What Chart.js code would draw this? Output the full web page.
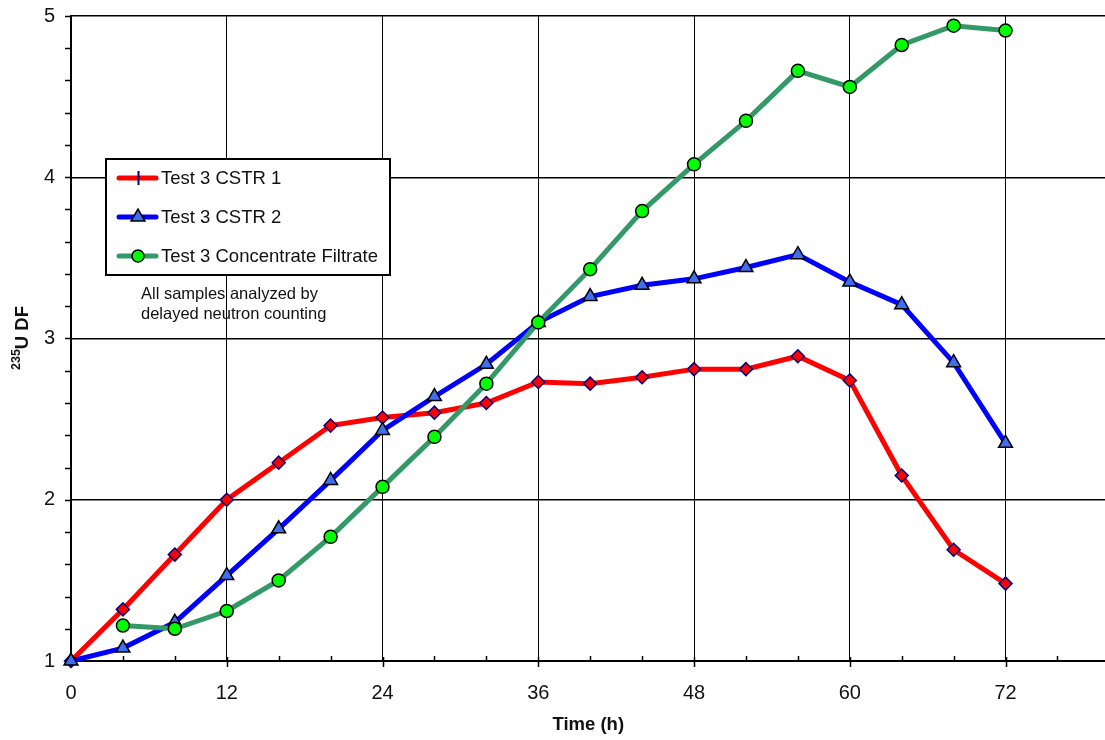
<!DOCTYPE html>
<html>
<head>
<meta charset="utf-8">
<script src="https://cdn.jsdelivr.net/npm/chart.js@4.4.0/dist/chart.umd.min.js"></script>
<style>
  html, body { margin: 0; padding: 0; background: #fff; overflow: hidden; }
  #wrap { width: 1105px; height: 740px; overflow: hidden; }
</style>
</head>
<body>
<div id="wrap"><canvas id="chart" width="1115" height="740"></canvas></div>
<script>
// data
const hours = [0, 4, 8, 12, 16, 20, 24, 28, 32, 36, 40, 44, 48, 52, 56, 60, 64, 68, 72];
const cstr1 = [1.00, 1.32, 1.66, 2.00, 2.23, 2.46, 2.51, 2.54, 2.60, 2.73, 2.72, 2.76, 2.81, 2.81, 2.89, 2.74, 2.15, 1.69, 1.48];
const cstr2 = [1.00, 1.08, 1.24, 1.53, 1.82, 2.12, 2.43, 2.64, 2.84, 3.10, 3.26, 3.33, 3.37, 3.44, 3.52, 3.35, 3.21, 2.85, 2.35];
const filtrateHours = [4, 8, 12, 16, 20, 24, 28, 32, 36, 40, 44, 48, 52, 56, 60, 64, 68, 72];
const filtrate = [1.22, 1.20, 1.31, 1.50, 1.77, 2.08, 2.39, 2.72, 3.10, 3.43, 3.79, 4.08, 4.35, 4.66, 4.56, 4.82, 4.94, 4.91];

const xTickValues = [0, 12, 24, 36, 48, 60, 72];
const yTickValues = [1, 2, 3, 4, 5];
const seriesNames = ['Test 3 CSTR 1', 'Test 3 CSTR 2', 'Test 3 Concentrate Filtrate'];
const noteLines = ['All samples analyzed by', 'delayed neutron counting'];

const FONT = '"Liberation Sans", Arial, sans-serif';

function pairs(xs, ys) {
  return xs.map((x, i) => ({ x: x, y: ys[i] }));
}

// tick marks, axis titles, legend box and the note
const decorations = {
  id: 'decorations',
  beforeDatasetsDraw(chart) {
    const ctx = chart.ctx;
    const xs = chart.scales.x, ys = chart.scales.y;
    const area = chart.chartArea;
    ctx.save();
    ctx.strokeStyle = '#000';
    ctx.lineWidth = 1.5;
    ctx.beginPath();
    // y: minor every 0.2, outside
    for (let v = 1; v <= 5.001; v += 0.2) {
      const py = Math.round(ys.getPixelForValue(v)) + 0.5;
      ctx.moveTo(area.left - 6, py);
      ctx.lineTo(area.left, py);
    }
    // x: minor every 4 inside, majors cross the axis
    for (let v = 0; v <= 79; v += 4) {
      const px = Math.round(xs.getPixelForValue(v)) + 0.5;
      if (v % 12 === 0) {
        ctx.moveTo(px, area.bottom - 4);
        ctx.lineTo(px, area.bottom + 6);
      } else {
        ctx.moveTo(px, area.bottom - 5);
        ctx.lineTo(px, area.bottom);
      }
    }
    ctx.stroke();
    ctx.restore();
  },
  afterDraw(chart) {
    const ctx = chart.ctx;
    const area = chart.chartArea;
    ctx.save();

    // x title
    ctx.fillStyle = '#111';
    ctx.font = 'bold 18.5px ' + FONT;
    ctx.textAlign = 'center';
    ctx.textBaseline = 'middle';
    ctx.fillText('Time (h)', (area.left + area.right) / 2, 725);

    // y title with superscript
    ctx.save();
    ctx.translate(23, 338);
    ctx.rotate(-Math.PI / 2);
    ctx.textAlign = 'left';
    ctx.font = 'bold 12.5px ' + FONT;
    const wSup = ctx.measureText('235').width;
    ctx.font = 'bold 18.5px ' + FONT;
    const wMain = ctx.measureText('U DF').width;
    let start = -(wSup + wMain) / 2;
    ctx.font = 'bold 12.5px ' + FONT;
    ctx.fillText('235', start, -6);
    ctx.font = 'bold 18.5px ' + FONT;
    ctx.fillText('U DF', start + wSup, 0);
    ctx.restore();

    // legend
    const bx = 106, by = 159, bw = 284, bh = 116;
    ctx.fillStyle = '#fff';
    ctx.fillRect(bx, by, bw, bh);
    ctx.strokeStyle = '#000';
    ctx.lineWidth = 2;
    ctx.strokeRect(bx, by, bw, bh);
    const rowY = [178, 217, 256];
    chart.data.datasets.forEach((ds, i) => {
      const y = rowY[i];
      ctx.strokeStyle = ds.borderColor;
      ctx.lineWidth = 5;
      ctx.lineCap = 'round';
      ctx.beginPath();
      ctx.moveTo(119, y);
      ctx.lineTo(156, y);
      ctx.stroke();
      ctx.lineCap = 'butt';
      ctx.fillStyle = ds.pointBackgroundColor;
      ctx.strokeStyle = ds.pointBorderColor;
      if (i === 0) {
        ctx.lineWidth = 2;
        ctx.beginPath();
        ctx.moveTo(138.5, y - 7);
        ctx.lineTo(138.5, y + 7);
        ctx.stroke();
      } else {
        ctx.lineWidth = ds.pointBorderWidth;
        Chart.helpers.drawPoint(ctx, {
          pointStyle: ds.pointStyle, radius: i === 1 ? 8 : 6, rotation: 0, borderWidth: ds.pointBorderWidth
        }, 138, y);
      }
      ctx.fillStyle = '#111';
      ctx.font = '18.5px ' + FONT;
      ctx.textAlign = 'left';
      ctx.textBaseline = 'middle';
      ctx.fillText(seriesNames[i], 161, y + 1);
    });

    // note
    ctx.font = '16.5px ' + FONT;
    ctx.fillStyle = '#111';
    ctx.textBaseline = 'middle';
    noteLines.forEach((t, i) => ctx.fillText(t, 141, 294 + i * 20));

    ctx.restore();
  }
};

const chart = new Chart(document.getElementById('chart').getContext('2d'), {
  type: 'line',
  data: {
    datasets: [
      {
        label: seriesNames[0],
        data: pairs(hours, cstr1),
        borderColor: '#ff0000',
        borderWidth: 5,
        pointStyle: 'rectRot',
        pointRadius: 6.5,
        pointBackgroundColor: '#ff0000',
        pointBorderColor: '#000080',
        pointBorderWidth: 1.5,
        order: 3,
        clip: false
      },
      {
        label: seriesNames[1],
        data: pairs(hours, cstr2),
        borderColor: '#0000ff',
        borderWidth: 5,
        pointStyle: 'triangle',
        pointRadius: 8,
        pointBackgroundColor: '#3f6ff0',
        pointBorderColor: '#000',
        pointBorderWidth: 1.5,
        order: 2,
        clip: false
      },
      {
        label: seriesNames[2],
        data: pairs(filtrateHours, filtrate),
        borderColor: '#339966',
        borderWidth: 5,
        pointStyle: 'circle',
        pointRadius: 6.5,
        pointBackgroundColor: '#00ff00',
        pointBorderColor: '#000',
        pointBorderWidth: 1.5,
        order: 1,
        clip: false
      }
    ]
  },
  options: {
    responsive: false,
    animation: false,
    devicePixelRatio: 1,
    layout: { padding: { top: 16, right: 0, left: 0, bottom: 0 } },
    elements: { line: { tension: 0 } },
    plugins: {
      legend: { display: false },
      tooltip: { enabled: false }
    },
    scales: {
      x: {
        type: 'linear',
        min: 0,
        max: 79.7,
        afterBuildTicks: s => { s.ticks = xTickValues.map(v => ({ value: v })); },
        afterFit: s => { s.height = 79; s.paddingLeft = 0; s.paddingRight = 0; },
        ticks: { font: { family: FONT, size: 20 }, color: '#111', padding: 20, maxRotation: 0, autoSkip: false },
        grid: { color: '#000', lineWidth: 1, drawTicks: false },
        border: { color: '#000', width: 2 }
      },
      y: {
        min: 1,
        max: 5,
        afterBuildTicks: s => { s.ticks = yTickValues.map(v => ({ value: v })); },
        afterFit: s => { s.width = 71; s.paddingTop = 0; s.paddingBottom = 0; },
        ticks: { font: { family: FONT, size: 20 }, color: '#111', padding: 16 },
        grid: { color: '#000', lineWidth: 1.5, drawTicks: false },
        border: { color: '#000', width: 2 }
      }
    }
  },
  plugins: [decorations]
});
</script>
</body>
</html>
